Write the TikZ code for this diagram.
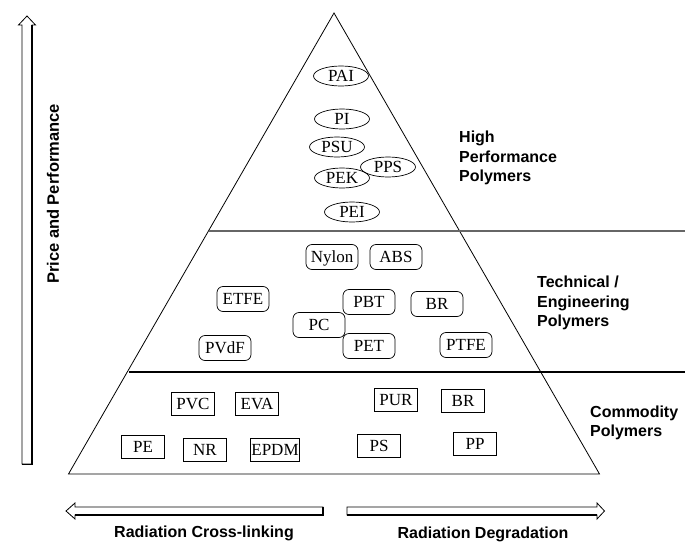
\documentclass[tikz,border=0pt]{standalone}
\usepackage{fontspec}
\setmainfont{Liberation Serif}
\newfontfamily\lsans{Liberation Sans}
\usetikzlibrary{shapes.geometric}
\begin{document}
\begin{tikzpicture}[x=1pt,y=-1pt,
  poly/.style={inner sep=0pt,text height=11.5pt,text depth=0pt,font=\fontsize{17}{20}\selectfont,draw,line width=0.7pt},
  ell/.style={poly,ellipse,minimum width=55pt,minimum height=20pt},
  rbox/.style={poly,rectangle,rounded corners=6pt,minimum width=52pt,minimum height=25pt},
  sbox/.style={poly,rectangle,minimum width=43pt,minimum height=23pt},
  lab/.style={font=\lsans\bfseries\fontsize{16}{19.5}\selectfont,align=left,inner sep=0pt},
  edge/.style={line width=0.8pt},
  bigarrow/.style={draw,line width=0.8pt,fill=white,line join=miter}]
\useasboundingbox (0,0) rectangle (688,546);
% pyramid
\coordinate (apex) at (334,13);
\coordinate (bl) at (68.5,474);
\coordinate (br) at (599.5,474);
\coordinate (l1a) at (209,231);
\coordinate (l1b) at (685,231);
\coordinate (l2a) at (128.5,372);
\coordinate (l2b) at (685,372);
\draw[edge] (apex) -- (br) -- (bl) -- cycle;
\draw[line width=1.3pt,black!60] (l1a) -- (l1b);
\draw[line width=1.3pt] (l2a) -- (l2b);
% high performance
\node[ell] (pai) at (341,76) {PAI};
\node[ell] (pi) at (342,119) {PI};
\node[ell] (psu) at (337,147) {PSU};
\node[ell] (pek) at (342,178) {PEK};
\node[ell] (pps) at (388,167) {PPS};
\node[ell] (pei) at (352,212) {PEI};
% technical
\node[rbox] (nylon) at (332,257) {Nylon};
\node[rbox] (abs) at (396,257) {ABS};
\node[rbox] (etfe) at (243,299) {ETFE};
\node[rbox] (pbt) at (369,302) {PBT};
\node[rbox] (br1) at (437,304) {BR};
\node[rbox] (pc) at (319,325) {PC};
\node[rbox] (pet) at (369,346) {PET};
\node[rbox] (pvdf) at (225,348) {PVdF};
\node[rbox] (ptfe) at (466,345) {PTFE};
% commodity
\node[sbox] (pvc) at (193,404) {PVC};
\node[sbox] (eva) at (257,404) {EVA};
\node[sbox] (pur) at (396,400) {PUR};
\node[sbox] (br2) at (463,401) {BR};
\node[sbox] (pe) at (143,447) {PE};
\node[sbox] (nr) at (205,450) {NR};
\node[sbox,minimum width=49pt] (epdm) at (275,450) {EPDM};
\node[sbox] (ps) at (379,446) {PS};
\node[sbox] (pp) at (475,444) {PP};
% category labels
\node[lab,anchor=west] (hp) at (459,158) {High\\Performance\\Polymers};
\node[lab,anchor=west] (te) at (537,303) {Technical /\\Engineering\\Polymers};
\node[lab,anchor=west] (cp) at (590,423) {Commodity\\Polymers};
% vertical arrow
\draw[bigarrow] (22,464) -- (22,25) -- (18.5,25) -- (27,16) -- (35.5,25) -- (32,25) -- (32,464) -- cycle;
\draw[line width=1.6pt] (32,25) -- (32,464.5) -- (22,464.5);
\node[lab,rotate=90,font=\lsans\bfseries\fontsize{16.5}{19}\selectfont] (pp-lab) at (53,194) {Price and Performance};
% horizontal arrows
\draw[bigarrow] (323,507) -- (75,507) -- (75,503) -- (66,511) -- (75,519) -- (75,515) -- (323,515) -- cycle;
\draw[line width=1.5pt] (323,507) -- (323,515) -- (75,515);
\draw[bigarrow] (347,507) -- (597,507) -- (597,503) -- (604.5,511) -- (597,519) -- (597,515) -- (347,515) -- cycle;
\draw[line width=1.5pt] (347,515) -- (597,515);
\node[lab] (rc) at (204,533) {Radiation Cross-linking};
\node[lab] (rd) at (483,534) {Radiation Degradation};
\end{tikzpicture}
\end{document}
